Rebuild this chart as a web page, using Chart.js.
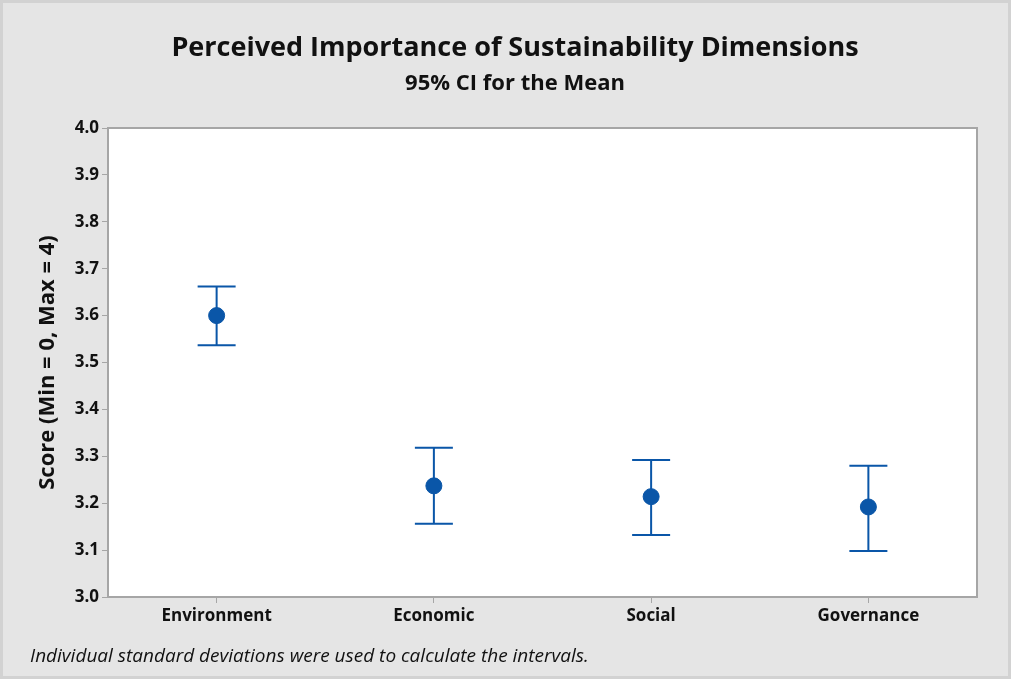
<!DOCTYPE html>
<html>
<head>
<meta charset="utf-8">
<script src="https://cdn.jsdelivr.net/npm/chart.js@4"></script>
<style>
  html, body { margin: 0; padding: 0; background: #e5e5e5; }
  #wrap { width: 1011px; height: 679px; position: relative; }
</style>
</head>
<body>
<div id="wrap"><canvas id="myChart" width="1011" height="679"></canvas></div>
<script>
// data
const categories = ['Environment', 'Economic', 'Social', 'Governance'];
const means = [3.600, 3.237, 3.214, 3.192];
const lowerCI = [3.537, 3.156, 3.132, 3.098];
const upperCI = [3.662, 3.318, 3.292, 3.280];
const yTicks = [3.0, 3.1, 3.2, 3.3, 3.4, 3.5, 3.6, 3.7, 3.8, 3.9, 4.0];

const fontFamily = "'Open Sans', 'Noto Sans', sans-serif";
const blue = '#0a56a8';

// background, white plot area with a grey frame, titles and footnote
const frame = {
  id: 'frame',
  beforeDraw(chart) {
    const c = chart.ctx;
    const a = chart.chartArea;
    c.save();
    c.fillStyle = '#e5e5e5';
    c.fillRect(0, 0, chart.width, chart.height);
    c.strokeStyle = '#d2d2d2';
    c.lineWidth = 3;
    c.strokeRect(1.5, 1.5, chart.width - 3, chart.height - 3);
    c.fillStyle = '#ffffff';
    c.fillRect(a.left, a.top, a.right - a.left, a.bottom - a.top);
    c.restore();
  },
  afterDraw(chart) {
    const c = chart.ctx;
    const a = chart.chartArea;
    c.save();
    c.strokeStyle = '#a6a6a6';
    c.lineWidth = 2;
    c.strokeRect(a.left, a.top, a.right - a.left, a.bottom - a.top);

    c.fillStyle = '#111';
    c.textBaseline = 'middle';
    c.textAlign = 'center';
    c.font = "bold 27px 'Open Sans', 'Noto Sans', sans-serif";
    c.fillText('Perceived Importance of Sustainability Dimensions', 515, 48);
    c.font = "bold 22px 'Open Sans', 'Noto Sans', sans-serif";
    c.fillText('95% CI for the Mean', 515, 84);

    // footnote
    c.textAlign = 'left';
    c.font = "italic 19px 'Open Sans', 'Noto Sans', sans-serif";
    c.fillText('Individual standard deviations were used to calculate the intervals.', 30, 657);
    c.restore();
  }
};

// confidence interval whiskers drawn through the scales
const whiskers = {
  id: 'whiskers',
  beforeDatasetsDraw(chart) {
    const c = chart.ctx;
    const x = chart.scales.x;
    const y = chart.scales.y;
    c.save();
    c.strokeStyle = blue;
    c.lineWidth = 2;
    categories.forEach((cat, i) => {
      const px = x.getPixelForValue(i);
      const lo = y.getPixelForValue(lowerCI[i]);
      const hi = y.getPixelForValue(upperCI[i]);
      c.beginPath();
      c.moveTo(px, lo); c.lineTo(px, hi);
      c.moveTo(px - 19, lo); c.lineTo(px + 19, lo);
      c.moveTo(px - 19, hi); c.lineTo(px + 19, hi);
      c.stroke();
    });
    c.restore();
  }
};

const ctx = document.getElementById('myChart').getContext('2d');
let myChart = new Chart(ctx, {
  type: 'line',
  data: {
    labels: categories,
    datasets: [{
      label: 'Mean',
      data: means,
      showLine: false,
      pointRadius: 8,
      pointHoverRadius: 8,
      pointBackgroundColor: blue,
      pointBorderColor: blue,
      pointBorderWidth: 1
    }]
  },
  options: {
    responsive: false,
    animation: false,
    layout: { padding: { left: 0, right: 34, top: 128, bottom: 42 } },
    plugins: {
      legend: { display: false },
      tooltip: { enabled: false }
    },
    scales: {
      x: {
        type: 'category',
        offset: true,
        afterFit(scale) { scale.height = 40; },
        grid: { offset: false, drawOnChartArea: false, tickLength: 6, color: '#a6a6a6' },
        border: { display: false },
        ticks: {
          color: '#111',
          padding: 3,
          font: { family: fontFamily, size: 17, weight: 'bold' }
        }
      },
      y: {
        min: 3.0,
        max: 4.0,
        afterFit(scale) { scale.width = 108; },
        afterBuildTicks(scale) { scale.ticks = yTicks.map(v => ({ value: v })); },
        grid: { drawOnChartArea: false, tickLength: 6, color: '#a6a6a6' },
        border: { display: false },
        ticks: {
          color: '#111',
          padding: 3,
          font: { family: fontFamily, size: 17, weight: 'bold' },
          callback: value => value.toFixed(1)
        },
        title: {
          display: true,
          text: 'Score (Min = 0, Max = 4)',
          color: '#111',
          font: { family: fontFamily, size: 22, weight: 'bold', lineHeight: 1.2 },
          padding: { top: 35, bottom: 0 }
        }
      }
    }
  },
  plugins: [frame, whiskers]
});
</script>
</body>
</html>
